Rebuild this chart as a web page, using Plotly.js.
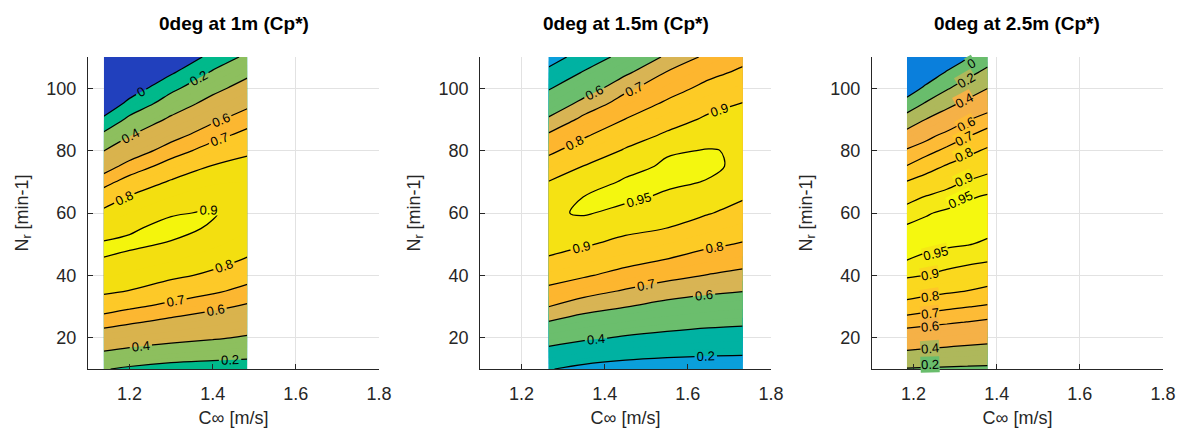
<!DOCTYPE html>
<html><head><meta charset="utf-8">
<script src="https://cdn.plot.ly/plotly-3.0.1.min.js"></script>
<style>html,body{margin:0;padding:0;background:#fff}#chart{width:1180px;height:428px}</style>
</head><body><div id="chart"></div>
<script>
// Shared y grid: rotor speed N_r [min-1]
const nr = [10,15,20,25,30,35,40,45,50,55,60,65,70,75,80,85,90,95,100,105,110];

// Panel 1: 0deg at 1m
const c1 = [1.138, 1.2, 1.3, 1.4, 1.483];
const cp1 = [
 [0.21,0.172,0.13,0.117,0.11],
 [0.38,0.347,0.303,0.273,0.253],
 [0.522,0.49,0.452,0.417,0.384],
 [0.648,0.615,0.569,0.525,0.485],
 [0.745,0.716,0.674,0.628,0.583],
 [0.815,0.798,0.756,0.717,0.672],
 [0.857,0.84,0.816,0.786,0.738],
 [0.898,0.88,0.855,0.826,0.794],
 [0.91,0.913,0.894,0.859,0.83],
 [0.862,0.892,0.92,0.892,0.855],
 [0.819,0.85,0.894,0.906,0.868],
 [0.756,0.808,0.851,0.88,0.868],
 [0.667,0.738,0.809,0.842,0.85],
 [0.54,0.645,0.74,0.804,0.825],
 [0.397,0.523,0.657,0.741,0.786],
 [0.241,0.389,0.552,0.667,0.728],
 [0.043,0.246,0.431,0.576,0.659],
 [-0.17,0.064,0.301,0.466,0.573],
 [-0.37,-0.12,0.156,0.35,0.47],
 [-0.57,-0.3,-0.025,0.225,0.361],
 [-0.77,-0.48,-0.2,0.067,0.241]
];

// Panel 2: 0deg at 1.5m
const c2 = [1.265, 1.35, 1.45, 1.55, 1.65, 1.732];
const cp2 = [
 [0.208,0.16,0.127,0.11,0.102,0.1],
 [0.341,0.293,0.256,0.234,0.22,0.215],
 [0.47,0.424,0.385,0.356,0.333,0.323],
 [0.595,0.541,0.496,0.463,0.438,0.425],
 [0.701,0.648,0.604,0.562,0.532,0.514],
 [0.778,0.736,0.691,0.651,0.621,0.603],
 [0.838,0.81,0.768,0.728,0.696,0.674],
 [0.896,0.863,0.83,0.797,0.759,0.737],
 [0.912,0.907,0.881,0.849,0.816,0.794],
 [0.935,0.93,0.915,0.899,0.861,0.836],
 [0.944,0.954,0.938,0.922,0.904,0.875],
 [0.93,0.951,0.958,0.943,0.926,0.906],
 [0.902,0.925,0.956,0.958,0.948,0.925],
 [0.843,0.902,0.934,0.957,0.957,0.942],
 [0.78,0.847,0.908,0.945,0.952,0.946],
 [0.713,0.788,0.86,0.911,0.933,0.938],
 [0.618,0.725,0.802,0.868,0.912,0.918],
 [0.505,0.641,0.744,0.815,0.878,0.903],
 [0.386,0.533,0.678,0.761,0.827,0.861],
 [0.249,0.416,0.581,0.707,0.776,0.817],
 [0.114,0.282,0.465,0.623,0.724,0.773]
];

// Panel 3: 0deg at 2.5m
const c3 = [1.184, 1.23, 1.28, 1.33, 1.378];
const cp3 = [
 [0.19,0.183,0.177,0.172,0.167],
 [0.371,0.355,0.341,0.328,0.316],
 [0.52,0.503,0.485,0.469,0.455],
 [0.648,0.632,0.615,0.597,0.58],
 [0.762,0.74,0.72,0.704,0.688],
 [0.847,0.832,0.815,0.798,0.779],
 [0.91,0.899,0.882,0.865,0.849],
 [0.951,0.941,0.929,0.918,0.908],
 [0.964,0.961,0.957,0.952,0.944],
 [0.958,0.964,0.965,0.963,0.96],
 [0.928,0.946,0.958,0.963,0.965],
 [0.878,0.906,0.926,0.945,0.956],
 [0.804,0.841,0.876,0.905,0.924],
 [0.704,0.76,0.809,0.844,0.876],
 [0.617,0.666,0.723,0.775,0.815],
 [0.469,0.559,0.631,0.69,0.74],
 [0.284,0.403,0.503,0.591,0.65],
 [0.084,0.222,0.349,0.449,0.532],
 [-0.115,0.043,0.181,0.298,0.397],
 [-0.31,-0.14,0.019,0.143,0.252],
 [-0.5,-0.33,-0.15,-0.016,0.107]
];

// Panel 3 contour labels (lines too short for automatic placement): value, C, Nr, angle
const lab3Val = [0, 0.2, 0.4, 0.6, 0.7, 0.8, 0.9, 0.95, 0.95, 0.9, 0.8, 0.7, 0.6, 0.4, 0.2];
const lab3C   = [1.34, 1.326, 1.322, 1.326, 1.322, 1.322, 1.322, 1.314, 1.252, 1.24, 1.24, 1.24, 1.24, 1.24, 1.24];
const lab3N   = [107.8, 102.6, 96.2, 88.5, 83.9, 78.6, 70.6, 64.2, 47.1, 40.2, 33.2, 27.9, 23.6, 16.7, 11.6];
const lab3Ang = [-30, -30, -28, -28, -27, -26, -25, -25, -14, -11, -8, -7, -6, -5, -2];

const titles = ['0deg at 1m (Cp*)', '0deg at 1.5m (Cp*)', '0deg at 2.5m (Cp*)'];
const xTicks = [1.2, 1.4, 1.6, 1.8];
const yTicks = [20, 40, 60, 80, 100];
const bandLevels = [0, 0.2, 0.4, 0.6, 0.7, 0.8, 0.9, 0.95];
const lineGroups = [[0, 0.2, 0.4, 0.6], [0.7, 0.8, 0.9], [0.95]];

// band colours: below 0, 0-0.2, 0.2-0.4, 0.4-0.6, 0.6-0.7, 0.7-0.8, 0.8-0.9, 0.9-0.95, above 0.95
const colors1 = ['#2140bd','#00b98b','#8dbf5e','#d9b34d','#fcb731','#fdc928','#f3df10','#f4f50c','#f4f50c'];
const colors2 = ['#1a8fe0','#0a9fdb','#00b2a2','#6bbe6d','#d8b454','#fdb62f','#fdcb25','#f5e213','#f4f70f'];
const colors3 = ['#0a7fdc','#69bd6c','#aeb85b','#f5b147','#fdbb36','#fec729','#fad81e','#f5e915','#f5f80f'];

const panels = [
  {x: c1, z: cp1, colors: colors1},
  {x: c2, z: cp2, colors: colors2},
  {x: c3, z: cp3, colors: colors3}
];

const FONT = 'Liberation Sans, Arial, Helvetica, sans-serif';
const STEP = 0.05, START = 0, END = 0.95;
const NC = Math.floor((END - START) / STEP + 1e-6) + 1;

function stepScale(cols) {
  // the fill of the band above level L is sampled at L + STEP/2 -> place edges half a step earlier
  const edges = [0];
  for (let i = 0; i < bandLevels.length; i++) {
    edges.push((bandLevels[i] - START + STEP / 2) / (NC * STEP));
  }
  edges.push(1);
  const cs = [];
  for (let i = 0; i < cols.length; i++) {
    const a = Math.min(1, Math.max(0, edges[i]));
    const b = Math.min(1, Math.max(0, edges[i + 1]));
    cs.push([a, cols[i]]);
    cs.push([b, cols[i]]);
  }
  return cs;
}

function bandColor(cols, v) {
  let k = 0;
  for (let i = 0; i < bandLevels.length; i++) if (v >= bandLevels[i]) k = i + 1;
  return cols[k];
}

const data = [];
const layout = {
  width: 1180, height: 428,
  margin: {l: 88, r: 17, t: 57, b: 59},
  paper_bgcolor: '#fff', plot_bgcolor: '#fff',
  showlegend: false,
  font: {family: FONT, color: '#262626'},
  annotations: []
};
const doms = [[0, 0.2707], [0.3647, 0.6353], [0.7293, 1]];

panels.forEach((p, i) => {
  const s = i === 0 ? '' : String(i + 1);
  const xa = 'x' + s, ya = 'y' + s;
  const auto = i < 2;
  data.push({
    type: 'contour', x: p.x, y: nr, z: p.z, xaxis: xa, yaxis: ya,
    autocontour: false,
    contours: {start: START, end: END, size: STEP, coloring: 'fill', showlines: false},
    line: {width: 0, smoothing: 1},
    colorscale: stepScale(p.colors), showscale: false, hoverinfo: 'skip'
  });
  lineGroups.forEach(g => {
    data.push({
      type: 'contour', x: p.x, y: nr, z: p.z, xaxis: xa, yaxis: ya,
      autocontour: false,
      contours: {start: g[0], end: g[g.length - 1], size: g.length > 1 ? g[1] - g[0] : 0.1,
        coloring: 'none', showlabels: auto, labelformat: '.2~f',
        labelfont: {family: FONT, size: 13, color: '#000'}},
      line: {color: '#000', width: 1.25, smoothing: 1},
      showscale: false, hoverinfo: 'skip'
    });
  });
  layout['xaxis' + s] = {
    domain: doms[i], anchor: ya, range: [1.1, 1.8], tickvals: xTicks, ticktext: xTicks.map(v => v.toFixed(1)),
    ticks: 'inside', ticklen: 5, tickcolor: '#262626', showline: true, linecolor: '#262626', linewidth: 1,
    showgrid: true, gridcolor: '#e2e2e2', zeroline: false, mirror: false,
    tickfont: {family: FONT, size: 18, color: '#262626'}, ticklabelstandoff: 8,
    title: {text: 'C\u221e [m/s]', font: {family: FONT, size: 18, color: '#262626'}, standoff: 13}
  };
  layout['yaxis' + s] = {
    domain: [0, 1], anchor: xa, range: [10, 110], tickvals: yTicks,
    ticks: 'inside', ticklen: 5, tickcolor: '#262626', showline: true, linecolor: '#262626', linewidth: 1,
    showgrid: true, gridcolor: '#e2e2e2', zeroline: false, mirror: false,
    tickfont: {family: FONT, size: 18, color: '#262626'}, ticklabelstandoff: 7,
    title: {text: 'N<sub>r</sub> [min-1]', font: {family: FONT, size: 18, color: '#262626'}, standoff: 13}
  };
  layout.annotations.push({
    text: '<b>' + titles[i] + '</b>', xref: 'paper', yref: 'paper',
    x: (doms[i][0] + doms[i][1]) / 2, y: 1, yshift: 34, xanchor: 'center', yanchor: 'middle',
    showarrow: false, font: {family: FONT, size: 19, color: '#000'}
  });
});

// manual contour labels for the narrow third panel
lab3Val.forEach((v, k) => {
  const upper = k < 8;
  const bg = bandColor(colors3, upper ? v + 0.01 : v - 0.01);
  layout.annotations.push({
    text: String(v), xref: 'x3', yref: 'y3', x: lab3C[k], y: lab3N[k],
    xanchor: 'center', yanchor: 'middle', showarrow: false, textangle: lab3Ang[k],
    bgcolor: bg, borderpad: 0,
    font: {family: FONT, size: 13, color: '#000'}
  });
});

Plotly.newPlot('chart', data, layout, {displayModeBar: false, staticPlot: true});
</script>
</body></html>
